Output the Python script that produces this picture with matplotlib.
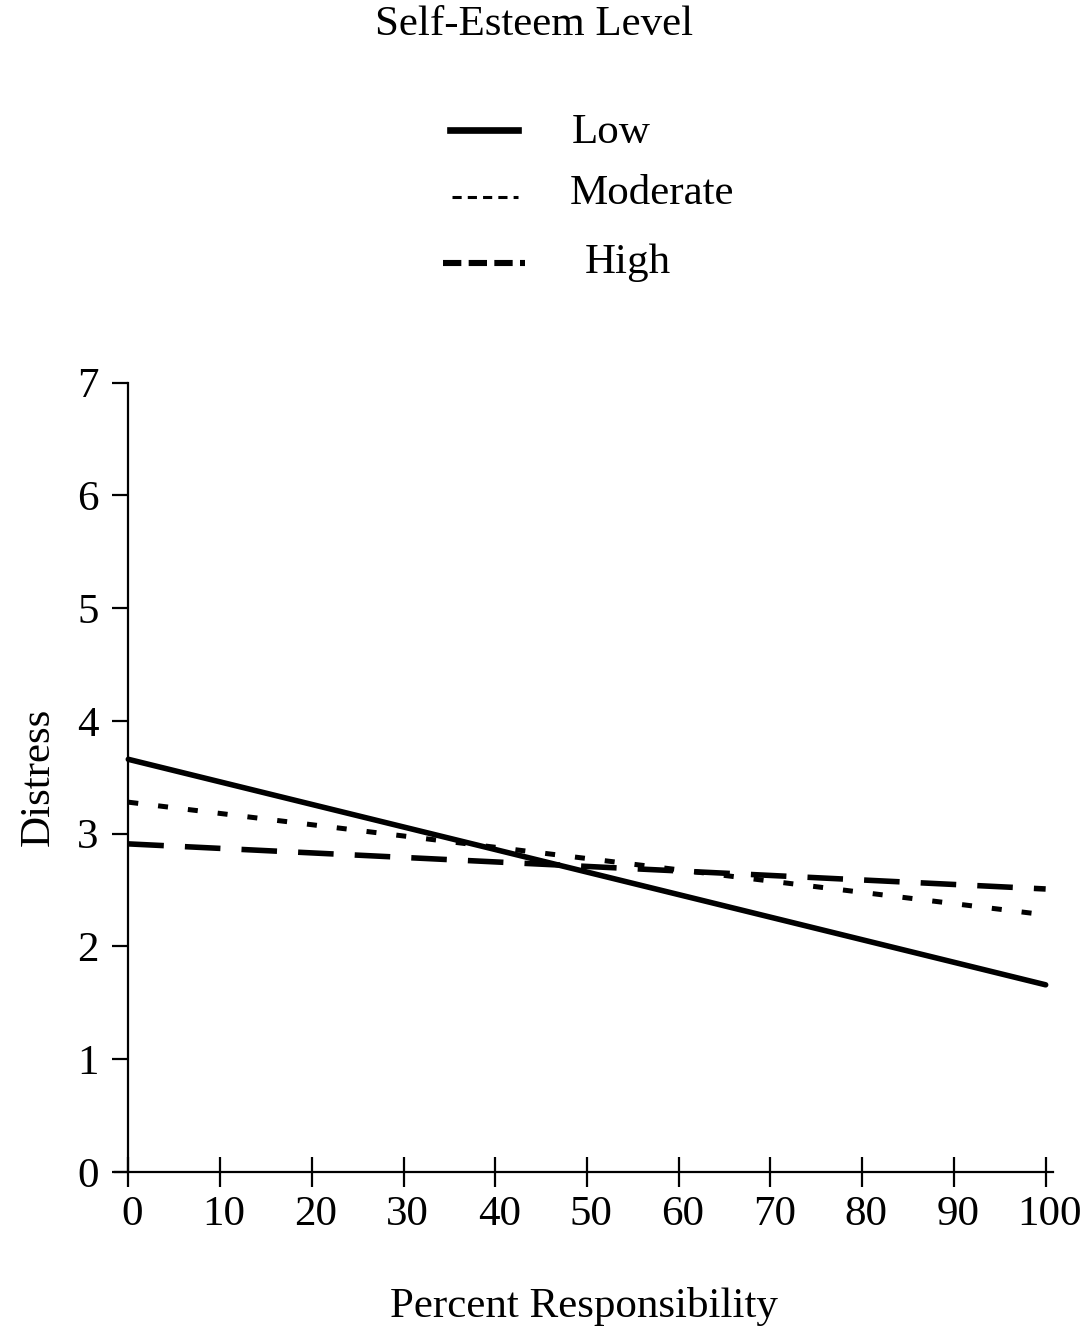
import matplotlib
matplotlib.use("Agg")
import matplotlib.pyplot as plt
from matplotlib.lines import Line2D
from matplotlib.transforms import ScaledTranslation

plt.rcParams['font.family'] = ['Liberation Serif', 'DejaVu Serif']

# Predicted distress at the ends of the responsibility range
responsibility = [0, 100]
low_se = [3.66, 1.66]
moderate_se = [3.28, 2.28]
high_se = [2.91, 2.51]

series_labels = ["Low", "Moderate", "High"]
legend_title = "Self-Esteem Level"
x_ticks = list(range(0, 101, 10))
y_ticks = list(range(0, 8))

FS = 31
W, H = 1089, 1331
fig = plt.figure(figsize=(W / 100, H / 100), dpi=100)

def fx(px):
    return px / W

def fy(py):
    return 1 - py / H

ax = fig.add_axes([fx(115), fy(1172), fx(1053) - fx(115), fy(382.7) - fy(1172)])
ax.set_xlim(-1.45, 100.8)
ax.set_ylim(0, 7)

lw = 4.0
ax.plot(responsibility, low_se, color='black', lw=lw, solid_capstyle='round')
ax.plot(responsibility, moderate_se, color='black', lw=3.6, dashes=(2.0, 4.0))
ax.plot(responsibility, high_se, color='black', lw=lw, dashes=(6.4, 3.8))

for s in ['top', 'right']:
    ax.spines[s].set_visible(False)
ax.spines['left'].set_position(('data', 0))
ax.spines['left'].set_bounds(0, 7)
for s in ['left', 'bottom']:
    ax.spines[s].set_linewidth(1.6)

ax.set_xticks(x_ticks)
ax.set_yticks(y_ticks)
ax.tick_params(axis='x', direction='inout', length=21.6, width=1.6, pad=6, labelsize=FS)
ax.tick_params(axis='y', direction='out', length=11.5, width=1.6, pad=10, labelsize=FS)
shift = ScaledTranslation(4 / 100, 0, fig.dpi_scale_trans)
for lab in ax.get_xticklabels():
    lab.set_transform(lab.get_transform() + shift)

ax.set_xlabel("Percent Responsibility", fontsize=FS, labelpad=38)
ax.set_ylabel("Distress", fontsize=FS, labelpad=14)

# Legend drawn by hand above the plot
fig.text(fx(534), fy(25), legend_title, fontsize=FS, ha='center', va='center')

fig.add_artist(Line2D([fx(450), fx(518)], [fy(130), fy(130)], color='black', lw=4.8,
                      transform=fig.transFigure))
fig.add_artist(Line2D([fx(452), fx(518)], [fy(197), fy(197)], color='black', lw=2.2,
                      dashes=(3.0, 2.0), transform=fig.transFigure))
fig.add_artist(Line2D([fx(443), fx(525)], [fy(263), fy(263)], color='black', lw=4.4,
                      dashes=(3.0, 1.2), transform=fig.transFigure))

fig.text(fx(572), fy(133), series_labels[0], fontsize=FS, ha='left', va='center')
fig.text(fx(570), fy(194), series_labels[1], fontsize=FS, ha='left', va='center')
fig.text(fx(585), fy(263), series_labels[2], fontsize=FS, ha='left', va='center')

fig.savefig("out.png", dpi=100, facecolor='white')
